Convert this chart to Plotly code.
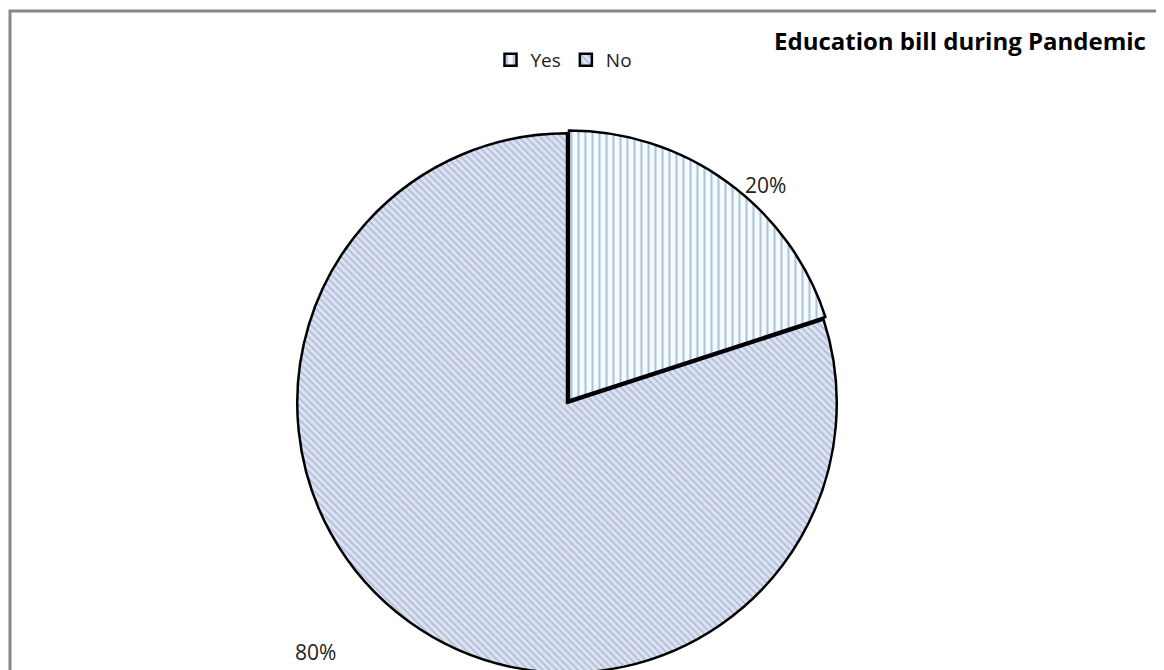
import plotly.graph_objects as go

categories = ["Yes", "No"]
values = [20, 80]
pulls = [0.012, 0.0]

total = sum(values)
OFF = 8  # page body margin offset
W, H = 1164 - OFF, 670

def fx(px):
    return (px - OFF) / W

def fy(py):
    return (H - (py - OFF)) / H

fig = go.Figure()
fig.add_trace(go.Pie(
    labels=categories,
    values=values,
    sort=False,
    direction="clockwise",
    rotation=0,
    pull=pulls,
    textinfo="none",
    hoverinfo="label+percent",
    marker=dict(
        colors=["#f4fbff", "#d9e1f2"],
        line=dict(color="#000000", width=2.5),
        pattern=dict(
            shape=["|", "\\"],
            fgcolor=["#7489b0", "#8e9cc0"],
            bgcolor=["#f2fbff", "#dce3f3"],
            size=[7, 5],
            solidity=[0.3, 0.4],
            fillmode="overlay",
        ),
    ),
    domain=dict(x=[fx(567 - 273), fx(567 + 273)], y=[fy(676), fy(130)]),
))

# percentage labels
label_pos = [(765, 185), (315, 652)]
for v, (px, py) in zip(values, label_pos):
    fig.add_annotation(
        x=fx(px), y=fy(py), xref="paper", yref="paper",
        text=f"{v / total:.0%}", showarrow=False,
        font=dict(family="Open Sans, Liberation Sans, sans-serif", size=21, color="#222222"),
        xanchor="center", yanchor="middle",
    )

fig.add_annotation(
    x=fx(1148), y=fy(40), xref="paper", yref="paper",
    text="<b>Education bill during Pandemic</b>", showarrow=False,
    font=dict(family="Open Sans, Liberation Sans, sans-serif", size=24, color="#000000"),
    xanchor="right", yanchor="middle",
)

fig.add_shape(
    type="rect", xref="paper", yref="paper",
    x0=fx(10), x1=fx(1162), y0=-0.05, y1=fy(11),
    line=dict(color="#878787", width=3), fillcolor="rgba(0,0,0,0)",
)

fig.update_layout(
    width=W, height=H,
    margin=dict(l=0, r=0, t=0, b=0),
    paper_bgcolor="#ffffff",
    plot_bgcolor="#ffffff",
    showlegend=True,
    legend=dict(
        orientation="h", x=fx(564), y=fy(60),
        xanchor="center", yanchor="middle",
        font=dict(family="Open Sans, Liberation Sans, sans-serif", size=19, color="#222222"),
        itemwidth=30,
    ),
)

fig.write_html(
    "out.html",
    post_script="document.body.style.overflow='hidden';",
)
